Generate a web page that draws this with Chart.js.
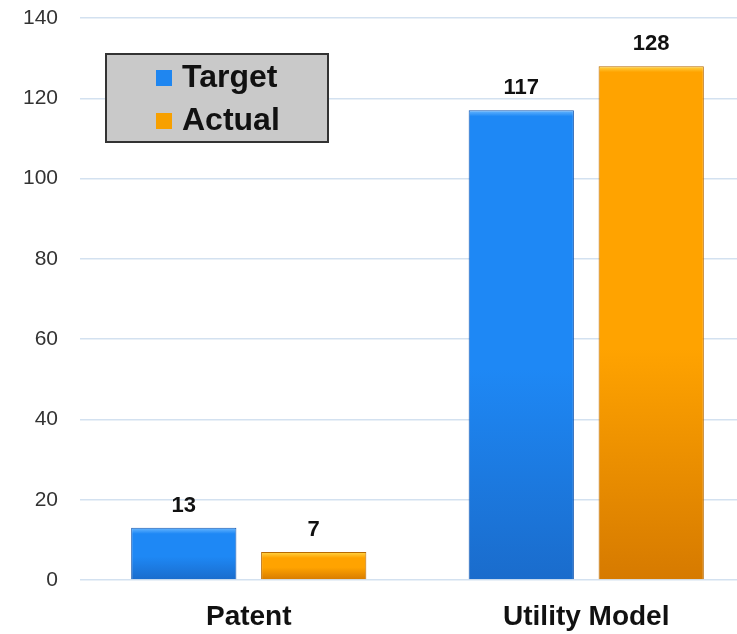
<!DOCTYPE html>
<html>
<head>
    <title>Target vs Actual</title>
    <script src="https://cdn.jsdelivr.net/npm/chart.js"></script>
    <style>
        html, body { margin: 0; padding: 0; background: #fff; overflow: hidden; }
        #wrap { width: 755px; height: 634px; }
    </style>
</head>
<body>
<div id="wrap"><canvas id="myChart"></canvas></div>
<script>
    var categories = ['Patent', 'Utility Model'];
    var targetValues = [13, 117];
    var actualValues = [7, 128];
    var yTicks = [0, 20, 40, 60, 80, 100, 120, 140];

    var ctx = document.getElementById('myChart').getContext('2d');
    var FONT = '"Liberation Sans", Arial, sans-serif';

    // 막대마다 위에서 아래로 그라데이션
    function barFill(light, mid, dark) {
        return function (c) {
            var area = c.chart.chartArea;
            if (!area || c.parsed === undefined) return mid;
            var yScale = c.chart.scales.y;
            var top = yScale.getPixelForValue(c.parsed.y);
            var base = yScale.getPixelForValue(0);
            var h = base - top;
            if (h < 2) return mid;
            var s = Math.min(6 / h, 0.25);
            var g = c.chart.ctx.createLinearGradient(0, top, 0, base);
            g.addColorStop(0, light);
            g.addColorStop(s, mid);
            g.addColorStop(Math.max(0.55, s), mid);
            g.addColorStop(1, dark);
            return g;
        };
    }

    // 막대 위 숫자
    var valueLabels = {
        id: 'valueLabels',
        afterDatasetsDraw: function (chart) {
            var c = chart.ctx;
            c.save();
            c.font = 'bold 22px ' + FONT;
            c.fillStyle = '#111';
            c.textAlign = 'center';
            c.textBaseline = 'alphabetic';
            chart.data.datasets.forEach(function (ds, i) {
                chart.getDatasetMeta(i).data.forEach(function (bar, j) {
                    c.fillText(ds.data[j], bar.x, bar.y - 16);
                });
            });
            c.restore();
        }
    };

    // 회색 박스 범례
    var boxLegend = {
        id: 'boxLegend',
        afterDraw: function (chart) {
            var c = chart.ctx;
            c.save();
            c.fillStyle = '#c9c9c9';
            c.fillRect(106, 54, 222, 88);
            c.strokeStyle = '#333';
            c.lineWidth = 2;
            c.strokeRect(106, 54, 222, 88);
            c.font = 'bold 32px ' + FONT;
            c.textBaseline = 'middle';
            c.textAlign = 'left';
            var colors = ['#1f86f0', '#f7a000'];
            chart.data.datasets.forEach(function (ds, i) {
                var y = 77 + i * 43;
                c.fillStyle = colors[i];
                c.fillRect(156, y - 7, 16, 16);
                c.fillStyle = '#111';
                c.fillText(ds.label, 182, y + 1);
            });
            c.restore();
        }
    };

    var chart = new Chart(ctx, {
        type: 'bar',
        data: {
            labels: categories,
            datasets: [{
                label: 'Target',
                data: targetValues,
                backgroundColor: barFill('#6ab8ff', '#1e88f5', '#1a6ccc'),
                borderColor: '#1558b0',
                borderWidth: 1
            }, {
                label: 'Actual',
                data: actualValues,
                backgroundColor: barFill('#ffd84a', '#ffa300', '#d67a00'),
                borderColor: '#b86a00',
                borderWidth: 1
            }]
        },
        options: {
            responsive: true,
            maintainAspectRatio: false,
            animation: false,
            layout: { padding: { top: 18, right: 0, left: 0, bottom: 0 } },
            categoryPercentage: 0.77,
            barPercentage: 0.81,
            plugins: {
                legend: { display: false },
                tooltip: { enabled: false }
            },
            scales: {
                x: {
                    grid: { display: false, drawTicks: false },
                    border: { display: false },
                    ticks: {
                        color: '#111',
                        padding: 20,
                        font: { family: FONT, size: 28, weight: 'bold' }
                    },
                    afterFit: function (s) { s.height = 54; }
                },
                y: {
                    min: 0,
                    max: 140,
                    afterBuildTicks: function (s) {
                        s.ticks = yTicks.map(function (v) { return { value: v }; });
                    },
                    grid: { color: '#d3e1f0', lineWidth: 1.5, drawTicks: false },
                    border: { display: false },
                    ticks: {
                        color: '#333',
                        padding: 22,
                        font: { family: FONT, size: 21 }
                    },
                    afterFit: function (s) {
                        s.width = 80;
                        s.paddingTop = 0;
                        s.paddingBottom = 0;
                    }
                }
            }
        },
        plugins: [valueLabels, boxLegend]
    });
</script>
</body>
</html>
